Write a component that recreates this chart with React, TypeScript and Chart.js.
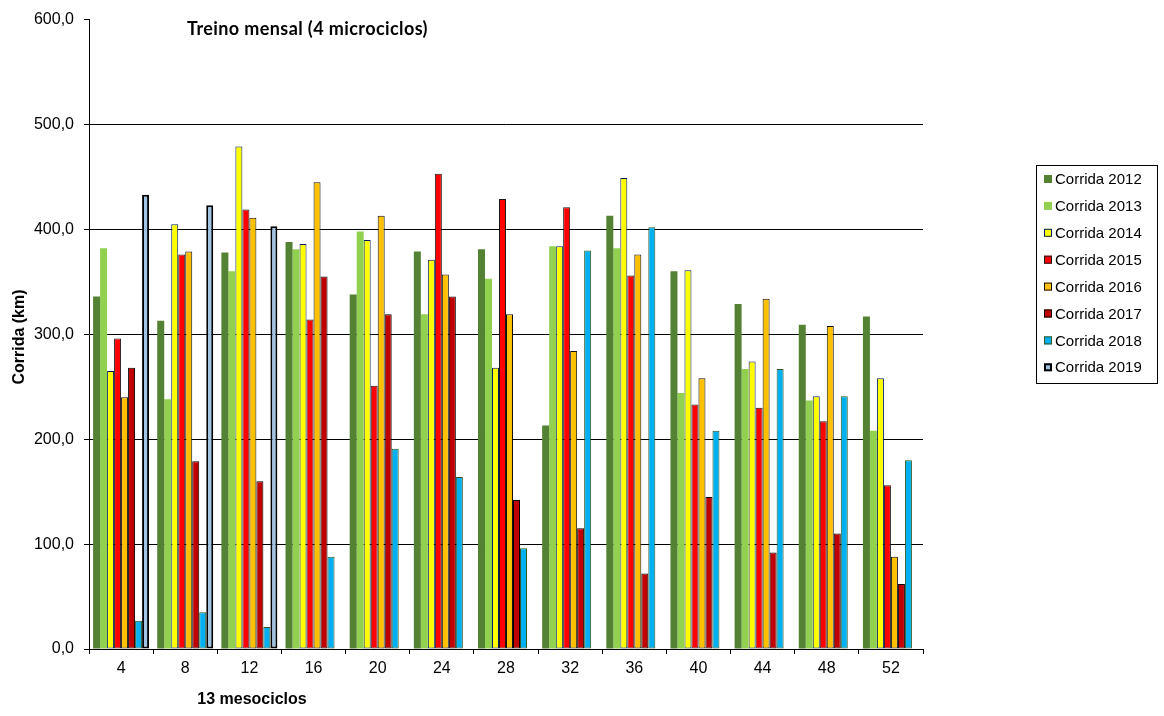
import React, { useEffect, useRef } from "react";
import { Chart, registerables } from "chart.js";

Chart.register(...registerables);

const categories = ["4", "8", "12", "16", "20", "24", "28", "32", "36", "40", "44", "48", "52"];

const corrida2012 = [336, 313, 378, 388, 338, 379, 381, 213, 413, 360, 329, 309, 317];
const corrida2013 = [382, 238, 360, 381, 398, 319, 353, 384, 382, 244, 267, 237, 208];
const corrida2014 = [265, 405, 479, 386, 390, 371, 268, 384, 449, 361, 274, 241, 258];
const corrida2015 = [296, 376, 419, 314, 251, 453, 429, 421, 356, 233, 230, 217, 156];
const corrida2016 = [240, 379, 411, 445, 413, 357, 319, 284, 376, 258, 334, 308, 88];
const corrida2017 = [268, 179, 160, 355, 319, 336, 142, 115, 72, 145, 92, 110, 62];
const corrida2018 = [27, 35, 21, 88, 191, 164, 96, 380, 402, 208, 267, 241, 180];
const corrida2019 = [433, 423, 403, null, null, null, null, null, null, null, null, null, null];

const seriesLabels = [
  "Corrida 2012",
  "Corrida 2013",
  "Corrida 2014",
  "Corrida 2015",
  "Corrida 2016",
  "Corrida 2017",
  "Corrida 2018",
  "Corrida 2019",
];

const yTicks = [0, 100, 200, 300, 400, 500, 600];

const fills = ["#548235", "#92D050", "#FFFF00", "#FF0000", "#FFC000", "#C00000", "#00B0F0", "#9DC3E6"];
const borders = ["#548235", "#92D050", "#002060", "#1a1a1a", "#111111", "#000000", "#375623", "#000000"];
const borderWidths = [0, 0, 1, 1, 1, 1, 1, 2];

const ARIAL = "'Liberation Sans', Arial, sans-serif";

const textPlugin = {
  id: "customText",
  afterDraw(chart: any) {
    const ctx = chart.ctx;
    ctx.save();
    // Title
    ctx.fillStyle = "#000";
    ctx.font = "bold 18px Lato, 'Open Sans', sans-serif";
    try {
      (ctx as any).letterSpacing = "0.4px";
    } catch (e) {}
    ctx.textAlign = "left";
    ctx.textBaseline = "middle";
    ctx.fillText("Treino mensal (4 microciclos)", 187, 29);
    try {
      (ctx as any).letterSpacing = "0px";
    } catch (e) {}
    // X title
    ctx.font = "bold 16px " + ARIAL;
    ctx.textAlign = "center";
    ctx.fillText("13 mesociclos", 252, 700);
    // Y title
    ctx.save();
    ctx.translate(20, 337);
    ctx.rotate(-Math.PI / 2);
    ctx.fillText("Corrida (km)", 0, 0);
    ctx.restore();

    // Legend
    const lx = 1036.5, ly = 165.5, lw = 121, lh = 218;
    ctx.strokeStyle = "#000";
    ctx.lineWidth = 1;
    ctx.strokeRect(lx, ly, lw, lh);
    ctx.font = "15px " + ARIAL;
    ctx.textAlign = "left";
    ctx.textBaseline = "middle";
    chart.data.datasets.forEach((ds: any, i: number) => {
      const cy = 179 + i * 26.9;
      const sx = 1044, sz = 8;
      ctx.fillStyle = ds.backgroundColor;
      ctx.fillRect(sx, cy - sz / 2, sz, sz);
      if (ds.borderWidth > 0) {
        ctx.strokeStyle = ds.borderColor;
        ctx.lineWidth = ds.borderWidth;
        const o = ds.borderWidth / 2;
        ctx.strokeRect(sx + o, cy - sz / 2 + o, sz - ds.borderWidth, sz - ds.borderWidth);
      }
      ctx.fillStyle = "#000";
      ctx.fillText(ds.label, 1055, cy + 1);
    });
    ctx.restore();
  },
};

export default function App() {
  const canvasRef = useRef<HTMLCanvasElement | null>(null);

  useEffect(() => {
    document.body.style.margin = "0";
    const canvas = canvasRef.current;
    if (!canvas) return;
    const allSeries = [corrida2012, corrida2013, corrida2014, corrida2015, corrida2016, corrida2017, corrida2018, corrida2019];
    const chart = new Chart(canvas, {
      type: "bar",
      data: {
        labels: categories,
        datasets: allSeries.map((d, i) => ({
          label: seriesLabels[i],
          data: d as any,
          backgroundColor: fills[i],
          borderColor: borders[i],
          borderWidth: borderWidths[i],
          borderSkipped: false,
          categoryPercentage: 0.873,
          barPercentage: 1,
        })),
      },
      options: {
        animation: false,
        responsive: false,
        devicePixelRatio: 1,
        layout: { padding: { left: 0, right: 241, top: 19, bottom: 0 } },
        plugins: {
          legend: { display: false },
          title: { display: false },
          tooltip: { enabled: false },
        },
        scales: {
          x: {
            grid: {
              display: true,
              drawOnChartArea: false,
              drawTicks: true,
              tickLength: 5,
              color: "#000",
              tickColor: "#000",
              offset: true,
            },
            border: { display: true, color: "#000", width: 1 },
            ticks: {
              color: "#000",
              font: { family: ARIAL, size: 16 },
              padding: 5,
              maxRotation: 0,
            },
            afterFit(scale: any) {
              scale.height = 67;
            },
          },
          y: {
            min: 0,
            max: 600,
            afterBuildTicks(scale: any) {
              scale.ticks = yTicks.map((v) => ({ value: v }));
            },
            grid: {
              color: (c: any) => (c.tick && c.tick.value === 600 ? "rgba(0,0,0,0)" : "#000"),
              tickColor: "#000",
              tickLength: 5,
              drawTicks: true,
            },
            border: { display: true, color: "#000", width: 1 },
            ticks: {
              color: "#000",
              font: { family: ARIAL, size: 16 },
              padding: 10,
              callback: (v: any) => Number(v).toFixed(1).replace(".", ","),
            },
            afterFit(scale: any) {
              scale.width = 89;
            },
          },
        },
      },
      plugins: [textPlugin],
    });
    return () => chart.destroy();
  }, []);

  return (
    <div style={{ width: 1164, height: 716, background: "#fff" }}>
      <canvas ref={canvasRef} width={1164} height={716} style={{ display: "block" }} />
    </div>
  );
}
